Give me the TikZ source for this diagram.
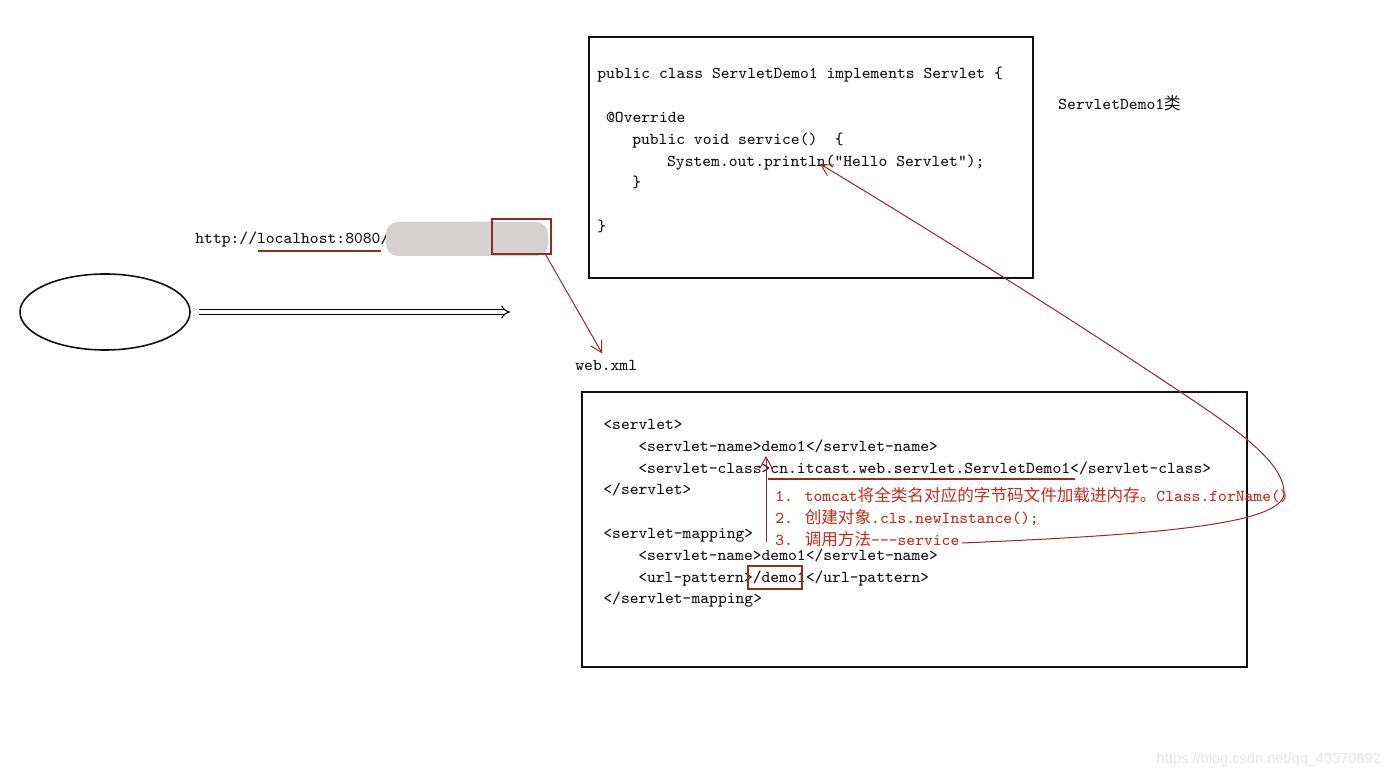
\documentclass[tikz,border=0pt]{standalone}
\usepackage{fontspec}
\newfontfamily\cjk{Noto Sans CJK SC}
\newfontfamily\wmfont{Liberation Sans}
\usetikzlibrary{arrows.meta,shapes.geometric}
\definecolor{ink}{HTML}{111111}
\definecolor{mark}{HTML}{8E2E22}
\definecolor{note}{HTML}{C42B1C}
\definecolor{blurgray}{HTML}{D6D1D1}
\newcommand{\indw}[1]{\hspace*{#1em}}

\begin{document}
\begin{tikzpicture}[x=0.5pt, y=-0.5pt,
  code/.style={font=\fontsize{8.3}{10.9}\selectfont\ttfamily, text=ink, inner sep=0pt},
  block/.style={code, align=left, anchor=north west},
  frame/.style={draw=ink, line width=0.9pt, inner sep=0pt},
  markbox/.style={draw=mark, line width=0.6pt, inner sep=0pt},
  marr/.style={-{Straight Barb[length=2mm, width=2.2mm]}, draw=mark, line width=0.5pt},
  mline/.style={draw=mark, line width=0.7pt},
  req/.style={double, double distance=1.8pt, line width=0.5pt, -{Implies[length=2.2mm, width=3.2mm]}, shorten <=4pt},
]
\fill[white] (0,0) rectangle (1395,779);
\useasboundingbox (0,0) rectangle (1395,779);

% browser side
\node[draw=ink, ellipse, line width=0.8pt, minimum width=85pt, minimum height=38pt] (browser) at (105,312) {};
\coordinate (reqend) at (510,312);
\draw[req] (browser) -- (reqend);
\node[code, anchor=west] (url) at (195,240) {http://localhost:8080/};
\node[fill=blurgray, rounded corners=6pt, minimum width=81pt, minimum height=17pt, inner sep=0pt] (hidden) at (467,239) {};
\node[markbox, minimum width=29.5pt, minimum height=17.5pt] (pathbox) at (521.5,236.5) {};
\node[code, anchor=west] (webxml) at (575,365) {web.xml};

% the servlet class
\node[frame, minimum width=222pt, minimum height=120.5pt] (codebox) at (811,157.5) {};
\node[block] (code) at (597,67) {public class ServletDemo1 implements Servlet \{\\
\mbox{}\\
\indw{0.525}@Override\\
\indw{2.1}public void service()\indw{1.05}\{\\
\indw{4.2}System.out.println("Hello Servlet");\\
\indw{2.1}\}\\
\mbox{}\\
\}};
\node[code, anchor=west] (classlbl) at (1058,103) {ServletDemo1{\cjk 类}};

% web.xml
\node[frame, minimum width=332.5pt, minimum height=137.5pt] (xmlbox) at (914.5,529.5) {};
\node[block] (xml) at (603,419) {<servlet>\\
\indw{2.1}<servlet-name>demo1</servlet-name>\\
\indw{2.1}<servlet-class>cn.itcast.web.servlet.ServletDemo1</servlet-class>\\
</servlet>\\
\mbox{}\\
<servlet-mapping>\\
\indw{2.1}<servlet-name>demo1</servlet-name>\\
\indw{2.1}<url-pattern>/demo1</url-pattern>\\
</servlet-mapping>};
\node[block, text=note] (steps) at (775,487) {1. tomcat{\cjk 将全类名对应的字节码文件加载进内存。}Class.forName()\\
2. {\cjk 创建对象}.cls.newInstance();\\
3. {\cjk 调用方法}---service};

% red marks
\draw[marr] ([xshift=-3pt]pathbox.south east) -- ([xshift=-2pt, yshift=3pt]webxml.north);
\draw[mline] (258,251) -- (381,251);
\draw[mline] (768,479) -- (1075,479);
\draw[marr] (766,542) -- (766,456);
\draw[markbox] (748,566) rectangle (802,589);
\coordinate (s3) at (962,543);
\coordinate (println) at (820,164);
\draw[marr] (s3) .. controls (1150,535) and (1284,525) .. (1284,493)
  .. controls (1284,460) and (1230,425) .. (1170,385)
  .. controls (1050,305) and (900,212) .. (println);

\node[anchor=east, text=black!10, font=\wmfont\fontsize{7.3}{9}\selectfont] (wm) at (1388,760) {https://blog.csdn.net/qq\_43370892};
\end{tikzpicture}
\end{document}
